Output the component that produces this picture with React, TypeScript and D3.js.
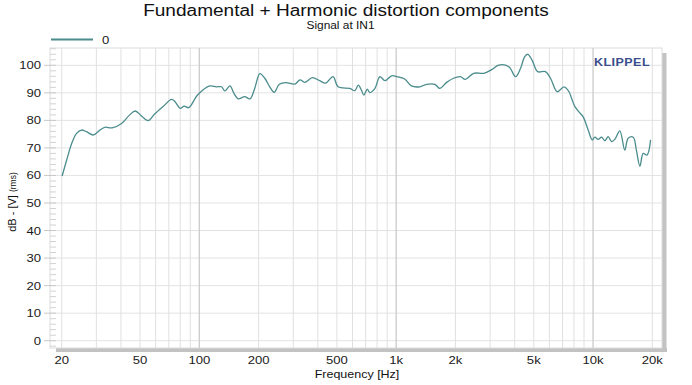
import React from 'react';
import * as d3 from 'd3';

const FREQ = [
  20.1, 21.2, 22.5, 23.8, 25.2, 26.7, 29.0, 31.3, 33.1, 36.1, 40.3, 44.3, 47.3, 50.7, 55.0, 59.3,
  65.4, 72.3, 75.3, 79.9, 83.8, 88.3, 98.0, 113, 122, 129.6, 135, 143, 150, 157.5, 170, 181, 191,
  203, 215, 228, 240, 255, 275, 306, 325, 343, 375, 409, 438, 478, 507, 582, 617, 642, 666, 685,
  713, 735, 780, 827, 877, 948, 1005, 1105, 1195, 1318, 1426, 1573, 1666, 1805, 1955, 2116, 2245,
  2476, 2785, 3070, 3320, 3735, 4040, 4285, 4490, 4660, 4900, 5230, 5735, 6080, 6580, 7125, 7550,
  7780, 8090, 8600, 8910, 9450, 9900, 10220, 10620, 11050, 11490, 11940, 12420, 12910, 13680,
  14500, 15080, 16000, 16600, 17300, 17980, 18800, 19600,
];
const DB = [
  59.8, 65.6, 71.7, 75.3, 76.5, 75.9, 74.7, 76.5, 77.5, 77.3, 78.9, 82.0, 83.4, 81.7, 79.9, 82.3,
  85.0, 87.6, 86.8, 84.4, 85.2, 84.6, 89.2, 92.5, 92.2, 92.2, 90.7, 92.5, 89.8, 87.8, 88.6, 87.8, 91.5,
  97.0, 95.3, 92.2, 90.2, 93.1, 93.7, 93.2, 94.7, 93.8, 95.5, 94.4, 93.5, 95.9, 92.2, 91.6, 90.8, 92.8, 91.0, 89.2,
  91.3, 90.1, 91.6, 95.9, 94.4, 96.2, 95.9, 95.0, 92.5, 92.2, 93.1, 93.1, 91.6, 93.8, 95.3, 95.9, 94.9,
  97.1, 97.1, 98.5, 100.1, 99.5, 95.9, 98.9, 103.1, 104.0, 101.9, 97.7, 97.7, 95.3, 90.4, 92.2, 90.4,
  88.0, 85.0, 82.6, 81.3, 76.5, 72.9, 73.9, 73.1, 73.9, 72.6, 74.1, 72.3, 73.1, 76.2,
  69.2, 73.5, 73.9, 69.2, 63.4, 68.0, 67.4, 72.9,
];

const X_TICKS = [20, 50, 100, 200, 500, 1000, 2000, 5000, 10000, 20000];
const X_TICK_LABELS = ['20', '50', '100', '200', '500', '1k', '2k', '5k', '10k', '20k'];
const Y_TICKS = [0, 10, 20, 30, 40, 50, 60, 70, 80, 90, 100];
const SERIES_NAME = '0';
const TITLE = 'Fundamental + Harmonic distortion components';
const SUBTITLE = 'Signal at IN1';
const X_LABEL = 'Frequency [Hz]';

const W = 692, H = 385;
const L = 50, T = 48, R = 662, B = 348;
const LINE_COLOR = '#4b8c8c';
const FONT = 'Liberation Sans, Arial, sans-serif';
const SX = 1.19;

function SText(props: { x: number; y: number; size: number; anchor?: string; fill?: string; children: React.ReactNode; weight?: number; ls?: number }) {
  const { x, y, size, anchor = 'start', fill = '#1a1a1a', children, weight, ls } = props;
  return (
    <g transform={`translate(${x},${y}) scale(${SX},1)`}>
      <text x={0} y={0} textAnchor={anchor} fontSize={size} fill={fill} fontWeight={weight} letterSpacing={ls}>{children}</text>
    </g>
  );
}

export default function App() {
  const x = d3.scaleLog().domain([20, 20000]).range([61.7, 652.3]);
  const y = d3.scaleLinear().domain([0, 100]).range([340.7, 65.3]);

  const gridFreqs: number[] = [];
  for (let dec = 10; dec <= 10000; dec *= 10) {
    for (let m = 1; m <= 9; m++) {
      const f = dec * m;
      if (f >= 20 && f <= 20000) gridFreqs.push(f);
    }
  }
  const yMin = y.invert(B), yMax = y.invert(T);
  const minor: number[] = d3.range(Math.ceil(yMin / 2) * 2, yMax, 2).filter((v) => v % 10 !== 0);

  const pts: [number, number][] = FREQ.map((f, i) => [x(f), y(DB[i])]);
  const path = d3.line().curve(d3.curveCatmullRom.alpha(0.5))(pts) || '';

  return (
    <svg width={W} height={H} style={{ display: 'block', position: 'absolute', left: 0, top: 0 }}
      fontFamily={FONT}>
      <rect x={0} y={0} width={W} height={H} fill="#fff" />
      <SText x={346} y={15.5} size={16} anchor="middle" fill="#111">{TITLE}</SText>
      <SText x={340.5} y={29} size={10} anchor="middle" fill="#111">{SUBTITLE}</SText>

      <line x1={51} x2={93} y1={39.5} y2={39.5} stroke={LINE_COLOR} strokeWidth={2} />
      <SText x={102} y={43.5} size={11}>{SERIES_NAME}</SText>

      {/* shadow */}
      <rect x={L + 6} y={B} width={R - L - 1} height={4} fill="#c2c2c2" />
      <rect x={R} y={T + 5} width={4.5} height={B - T - 1} fill="#c2c2c2" />
      <rect x={L} y={T} width={R - L} height={B - T} fill="#fff" stroke="#dcdcdc" strokeWidth={1} />

      {Y_TICKS.map((v) => (
        <line key={'hg' + v} x1={L} x2={R} y1={y(v)} y2={y(v)} stroke="#e3e3e3" strokeWidth={1} />
      ))}
      {gridFreqs.map((f) => {
        const major = f === 100 || f === 1000 || f === 10000;
        return (
          <line key={'vg' + f} x1={x(f)} x2={x(f)} y1={T} y2={B}
            stroke={major ? '#cbcbcb' : '#e0e0e0'} strokeWidth={major ? 1.3 : 1} />
        );
      })}
      {minor.map((v) => (
        <line key={'mt' + v} x1={L} x2={L + 6} y1={y(v)} y2={y(v)} stroke="#d2d2d2" strokeWidth={1} />
      ))}
      {Y_TICKS.map((v) => (
        <g key={'yt' + v}>
          <line x1={L - 6} x2={L + 6} y1={y(v)} y2={y(v)} stroke="#c8c8c8" strokeWidth={1} />
          <SText x={41} y={y(v) + 4} size={11} anchor="end">{v}</SText>
        </g>
      ))}

      <path d={path} fill="none" stroke={LINE_COLOR} strokeWidth={1.3} strokeLinejoin="round" />

      <SText x={622} y={65.5} size={10.5} anchor="middle" fill="#3a4d8c" weight={600} ls={0.4}>KLIPPEL</SText>

      {X_TICKS.map((f, i) => (
        <SText key={'xt' + f} x={x(f)} y={364} size={11} anchor="middle">{X_TICK_LABELS[i]}</SText>
      ))}
      <SText x={357} y={378} size={10.5} anchor="middle" fill="#111">{X_LABEL}</SText>

      <text transform={`translate(16,202) rotate(-90)`} textAnchor="middle" fontSize={11} fill="#111">
        dB - [V] <tspan fontSize={8.5}>(rms)</tspan>
      </text>
    </svg>
  );
}
